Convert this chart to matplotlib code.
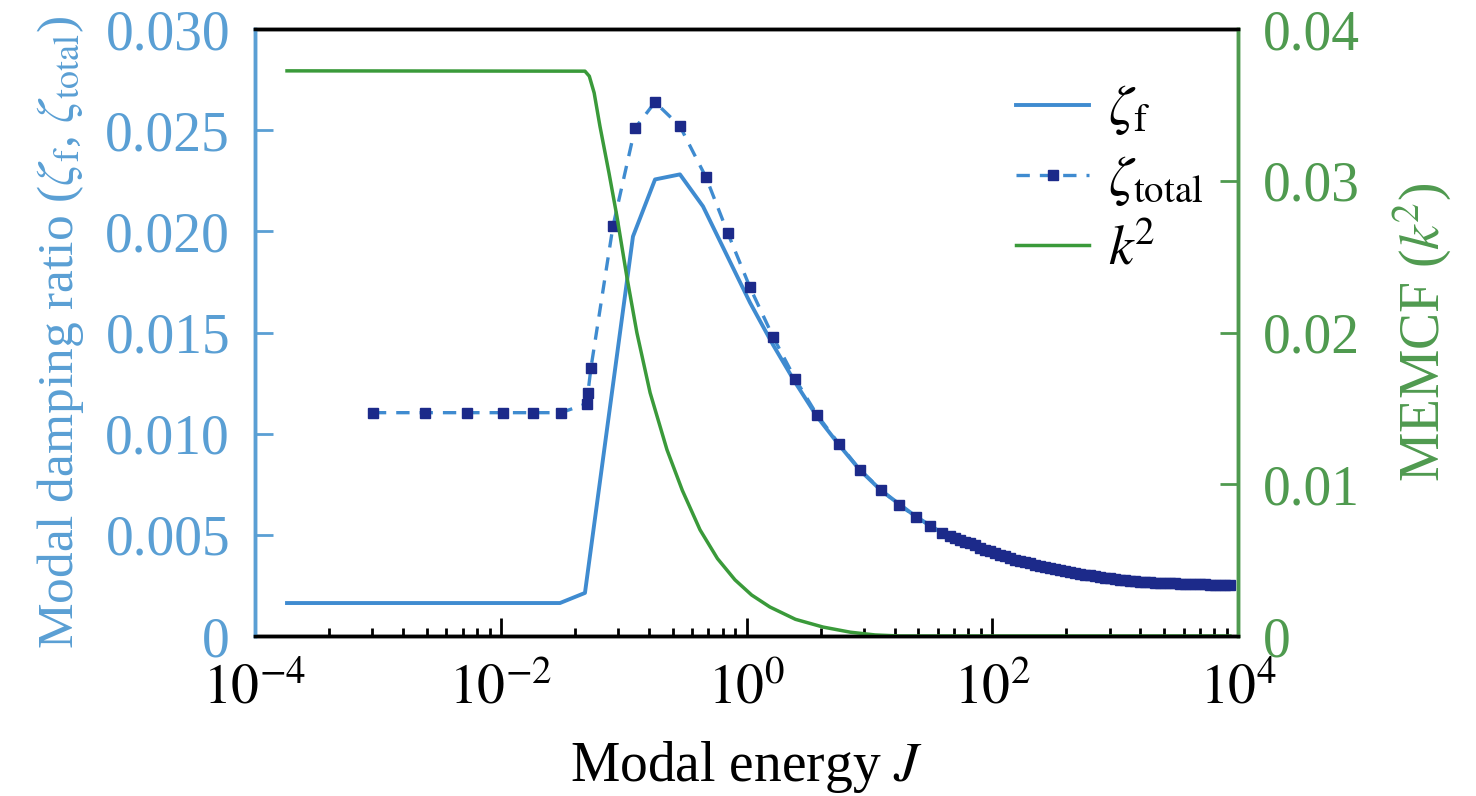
import numpy as np
import matplotlib
matplotlib.use("Agg")
import matplotlib.pyplot as plt
from matplotlib.ticker import LogLocator, FixedLocator, FixedFormatter, NullFormatter

plt.rcParams['font.family'] = ['Liberation Serif', 'DejaVu Serif']
plt.rcParams['mathtext.fontset'] = 'stix'

# zeta_f (solid line)
J_f = [1.82e-4, 0.0303, 0.0484, 0.119, 0.180, 0.287, 0.442, 1.067, 1.64, 2.48,
       3.74, 5.65, 8.37, 12.4, 23.9, 38.9, 150, 578, 2223, 8570]
zeta_f = [0.00163, 0.00163, 0.00213, 0.01975, 0.02257, 0.02282, 0.02124, 0.01648, 0.0144, 0.01255,
          0.01085, 0.00945, 0.0082, 0.0072, 0.0059, 0.0051, 0.0038, 0.0030, 0.00262, 0.00252]

# zeta_total (dashed line with markers), markers get dense in the tail
J_tot = [0.00091, 0.00242, 0.00531, 0.0104, 0.0183, 0.0309, 0.0502, 0.0512, 0.0542, 0.0818,
         0.1236, 0.1798, 0.287, 0.468, 0.706, 1.067, 1.64, 2.48, 3.74, 5.65,
         8.37, 12.4, 17.4, 23.9, 31.0, 38.9,
         45.2, 49.6, 54.5, 59.8, 65.7, 72.2, 79.3, 87.1, 95.5, 105,
         115, 127, 139, 153, 168, 184, 202, 222, 244, 268,
         294, 323, 355, 390, 428, 470, 516, 567, 622, 684,
         750, 824, 906, 995, 1092, 1199, 1318, 1446, 1589, 1746,
         1914, 2104, 2312, 2535, 2786, 3062, 3357, 3690, 4055, 4446,
         4887, 5370, 5888, 6471, 7112, 7798, 8570]
zeta_tot = [0.01104, 0.01104, 0.01104, 0.01104, 0.01104, 0.01104, 0.01149, 0.01203, 0.01327, 0.02025,
            0.02510, 0.02639, 0.02520, 0.02267, 0.01990, 0.01723, 0.01480, 0.01272, 0.01094, 0.00950,
            0.00822, 0.00723, 0.00649, 0.00589, 0.00545, 0.00510,
            0.00495, 0.00485, 0.00475, 0.00465, 0.00458, 0.00448, 0.00436, 0.00426, 0.00418, 0.00411,
            0.00401, 0.00394, 0.00386, 0.00376, 0.00371, 0.00364, 0.00359, 0.00351, 0.00347, 0.00342,
            0.00337, 0.00332, 0.00327, 0.00322, 0.00317, 0.00312, 0.00307, 0.00302, 0.00300, 0.00295,
            0.00292, 0.00287, 0.00285, 0.00282, 0.00277, 0.00275, 0.00272, 0.00270, 0.00267, 0.00265,
            0.00265, 0.00262, 0.00262, 0.00260, 0.00260, 0.00260, 0.00257, 0.00257, 0.00257, 0.00255,
            0.00255, 0.00255, 0.00252, 0.00252, 0.00252, 0.00252, 0.00252]

# k^2 (MEMCF, right axis)
J_k = [1.82e-4, 0.0484, 0.0525, 0.0575, 0.0641, 0.0760, 0.0881, 0.106, 0.128, 0.164,
       0.225, 0.300, 0.418, 0.580, 0.805, 1.10, 1.55, 2.50, 4.19, 7.00,
       11.1, 17.7, 8570]
k2 = [0.03725, 0.03723, 0.0369, 0.0358, 0.0336, 0.0305, 0.02766, 0.0237, 0.0200, 0.01604,
      0.01228, 0.0096, 0.0070, 0.0051, 0.0037, 0.0027, 0.00191, 0.00110, 0.00059, 0.00025,
      0.00007, 0.0, 0.0]

left_ticks = [0, 0.005, 0.010, 0.015, 0.020, 0.025, 0.030]
left_labels = ['0', '0.005', '0.010', '0.015', '0.020', '0.025', '0.030']
right_ticks = [0, 0.01, 0.02, 0.03, 0.04]
right_labels = ['0', '0.01', '0.02', '0.03', '0.04']
x_ticks = [1e-4, 1e-2, 1e0, 1e2, 1e4]
x_labels = ['$10^{-4}$', '$10^{-2}$', '$10^{0}$', '$10^{2}$', '$10^{4}$']

blue_line = '#3f8bd0'
blue_text = '#5a9fd4'
navy = '#1c2a8a'
green_line = '#3a9a3a'
green_text = '#4f9a4f'

fs = 40

fig = plt.figure(figsize=(14.76, 7.96), dpi=100)
ax = fig.add_axes([0.1728, 0.201, 0.666, 0.7624])
ax2 = ax.twinx()

l1, = ax.plot(J_f, zeta_f, color=blue_line, lw=2.8, label=r'$\zeta_{\mathrm{f}}$')
l2, = ax.plot(J_tot, zeta_tot, color=blue_line, lw=2.4, dashes=(4, 3),
              marker='s', ms=7.5, mfc=navy, mec=navy, label=r'$\zeta_{\mathrm{total}}$')
l3, = ax2.plot(J_k, k2, color=green_line, lw=2.5, label=r'$k^{\!2}$')

ax.set_xscale('log')
ax.set_xlim(1e-4, 1e4)
ax.set_ylim(0, 0.030)
ax2.set_ylim(0, 0.04)

ax.xaxis.set_major_locator(FixedLocator(x_ticks))
ax.xaxis.set_major_formatter(FixedFormatter(x_labels))
ax.xaxis.set_minor_locator(LogLocator(base=100, subs=[4, 9, 16, 25, 36, 49, 64, 81]))
ax.xaxis.set_minor_formatter(NullFormatter())

ax.yaxis.set_major_locator(FixedLocator(left_ticks))
ax.yaxis.set_major_formatter(FixedFormatter(left_labels))
ax2.yaxis.set_major_locator(FixedLocator(right_ticks))
ax2.yaxis.set_major_formatter(FixedFormatter(right_labels))

ax.tick_params(axis='x', which='major', direction='in', length=13, width=2, labelsize=fs, pad=20)
ax.tick_params(axis='x', which='minor', direction='in', length=6, width=2)
ax.tick_params(axis='y', direction='in', length=13, width=2, colors=blue_text, labelsize=fs, pad=18)
ax2.tick_params(axis='y', direction='in', length=13, width=2, colors=green_text, labelsize=fs, pad=18)

for a in (ax, ax2):
    a.spines['top'].set_color('black')
    a.spines['bottom'].set_color('black')
    a.spines['left'].set_color(blue_text)
    a.spines['right'].set_color(green_text)
    for s in a.spines.values():
        s.set_linewidth(2.5)

ax.set_xlabel('Modal energy $J$', fontsize=fs, labelpad=17)
ax.set_ylabel(r'Modal damping ratio ($\zeta_{\mathrm{f}}$, $\zeta_{\mathrm{total}}$)',
              fontsize=37, color=blue_text, labelpad=14)
ax2.set_ylabel(r'MEMCF ($k^{\!2}$)', fontsize=fs, color=green_text, labelpad=22)

ax2.legend(handles=[l1, l2, l3], loc='upper left', bbox_to_anchor=(0.735, 0.975),
           frameon=False, fontsize=fs, handlelength=1.3, handletextpad=0.35,
           labelspacing=0.3, borderpad=0.2)

fig.savefig('out.png', dpi=100)
